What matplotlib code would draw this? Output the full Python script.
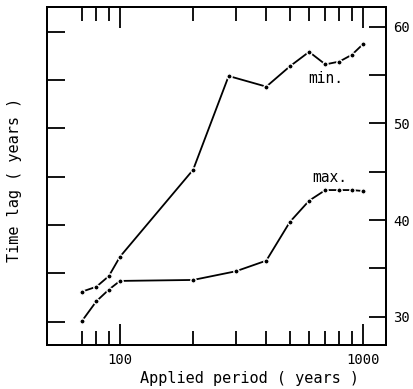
import matplotlib
matplotlib.use("Agg")
import matplotlib.pyplot as plt
from matplotlib.ticker import NullFormatter, FixedLocator

# Data
period_min = [70, 80, 90, 100, 200, 280, 400, 500, 600, 700, 800, 900, 1000]
lag_min = [32.6, 33.1, 34.2, 36.2, 45.2, 54.9, 53.8, 55.9, 57.4, 56.1, 56.4, 57.1, 58.2]
period_max = [70, 80, 90, 100, 200, 300, 400, 500, 600, 700, 800, 900, 1000]
lag_max = [29.6, 31.6, 32.8, 33.7, 33.8, 34.7, 35.8, 39.8, 42.0, 43.1, 43.1, 43.1, 43.0]

x_ticks = [70, 80, 90, 100, 200, 300, 400, 500, 600, 700, 800, 900, 1000]
right_major = [30, 40, 50, 60]
right_minor = [35, 45, 55]
left_ticks = [29.5, 34.5, 39.5, 44.5, 49.5, 54.5, 59.5]

FONT = "DejaVu Sans Mono"
plt.rcParams['font.family'] = [FONT]

fig = plt.figure(figsize=(4.14, 3.89), dpi=100)
ax = fig.add_axes([47/414, 1-345/389, (386-47)/414, (345-7)/389])
ax.set_xscale('log')
ax.set_xlim(50.1, 1243)
ax.set_ylim(27.07, 62.04)

lkw = dict(color='black', lw=1.3, marker='o', ms=3.8, mfc='black',
           mec='white', mew=1.0)
ax.plot(period_min, lag_min, **lkw)
ax.plot(period_max, lag_max, **lkw)

ax.text(700, 54.6, "min.", ha='center', va='center', fontsize=10.5)
ax.text(731, 44.4, "max.", ha='center', va='center', fontsize=10.5)

for s in ax.spines.values():
    s.set_linewidth(1.4)

# x ticks
ax.xaxis.set_major_locator(FixedLocator([100, 1000]))
ax.xaxis.set_minor_locator(FixedLocator([t for t in x_ticks if t not in (100, 1000)]))
ax.set_xticks([100, 1000])
ax.set_xticklabels(["100", "1000"], fontsize=10)
ax.xaxis.set_minor_formatter(NullFormatter())
ax.tick_params(axis='x', which='major', direction='in', length=15, width=1.3,
               top=True, bottom=True, pad=6)
ax.tick_params(axis='x', which='minor', direction='in', length=10, width=1.3,
               top=True, bottom=True)

# left ticks (no labels)
ax.set_yticks(left_ticks)
ax.set_yticklabels([])
ax.tick_params(axis='y', which='major', direction='in', length=13, width=1.3,
               left=True, right=False)
ax.tick_params(axis='y', which='minor', left=False, right=False)

# right axis
ax2 = ax.twinx()
ax2.set_ylim(ax.get_ylim())
ax2.set_yticks(right_major)
ax2.set_yticklabels([str(v) for v in right_major], fontsize=10)
ax2.set_yticks(right_minor, minor=True)
ax2.tick_params(axis='y', which='both', direction='in', length=12, width=1.3, pad=5)
for s in ax2.spines.values():
    s.set_linewidth(1.4)

ax.set_xlabel("Applied period ( years )", fontsize=11, labelpad=3)
ax.xaxis.label.set_x(0.597)
fig.text(15/414, 1-180/389, "Time lag ( years )", rotation=90, ha='center',
         va='center', fontsize=11)

fig.savefig("out.png", dpi=100)
